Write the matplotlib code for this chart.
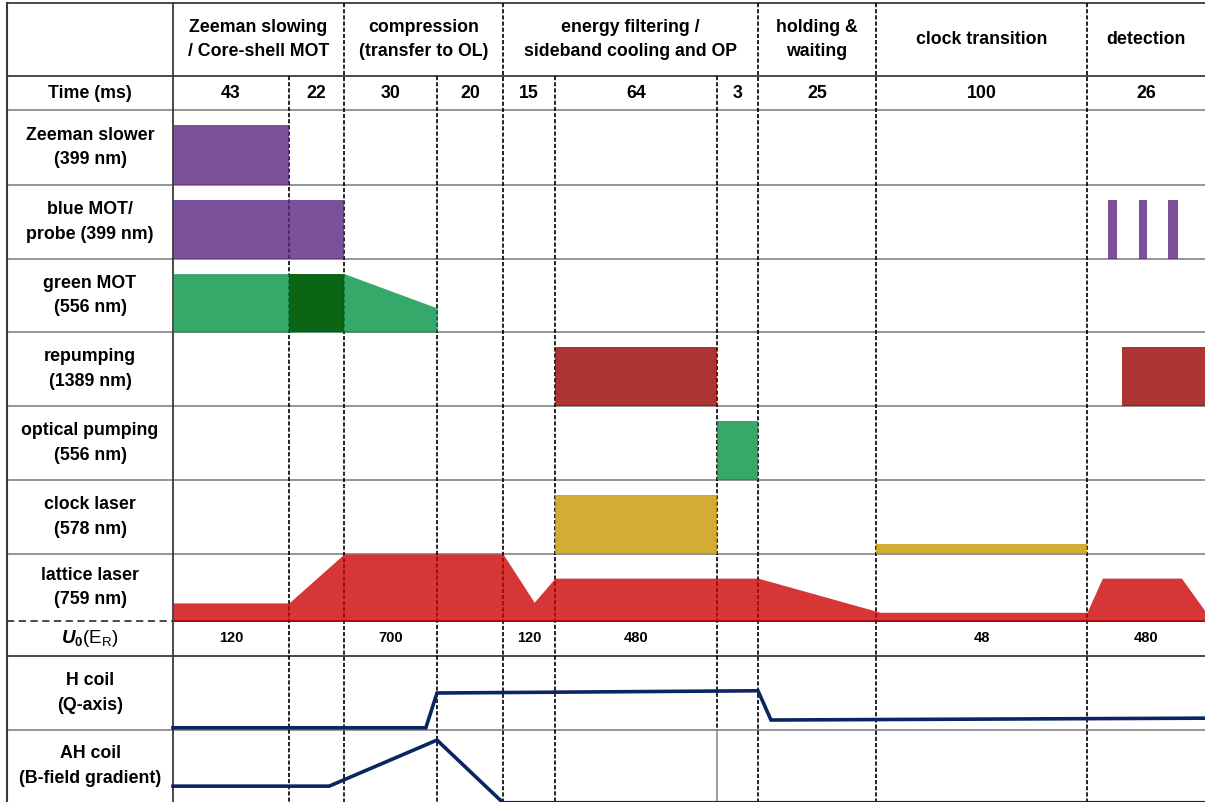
import numpy as np
import matplotlib
matplotlib.use('Agg')
import matplotlib.pyplot as plt
from matplotlib.colors import to_rgb

plt.rcParams['font.family'] = ['Liberation Sans', 'DejaVu Sans']
plt.rcParams['font.weight'] = 'bold'
plt.rcParams['mathtext.fontset'] = 'custom'
plt.rcParams['mathtext.rm'] = 'Liberation Sans:weight=normal'
plt.rcParams['mathtext.bf'] = 'Liberation Sans:bold'
plt.rcParams['mathtext.it'] = 'Liberation Sans:italic'
plt.rcParams['mathtext.bfit'] = 'Liberation Sans:bold:italic'

# sequence steps
phases = ["Zeeman slowing\n/ Core-shell MOT", "compression\n(transfer to OL)",
          "energy filtering /\nsideband cooling and OP", "holding &\nwaiting",
          "clock transition", "detection"]
phase_edges = [0, 2, 4, 7, 8, 9, 10]
durations = [43, 22, 30, 20, 15, 64, 3, 25, 100, 26]
u0_values = ['120', '', '700', '', '120', '480', '', '', '48', '480']

channels = ["Zeeman slower\n(399 nm)", "blue MOT/\nprobe (399 nm)", "green MOT\n(556 nm)",
            "repumping\n(1389 nm)", "optical pumping\n(556 nm)", "clock laser\n(578 nm)",
            "lattice laser\n(759 nm)", r"$\mathbfit{U}_\mathbf{0}\mathrm{(E}_\mathrm{R}\mathrm{)}$",
            "H coil\n(Q-axis)", "AH coil\n(B-field gradient)"]

# pulses: (start step, end step, level)
zeeman_slower = [(0, 1, 0.8)]
blue_mot = [(0, 2, 0.8), (9.18, 9.25, 0.8), (9.44, 9.51, 0.8), (9.69, 9.77, 0.8)]
repumping = [(5, 6, 0.8), (9.3, 10, 0.8)]
optical_pumping = [(6, 7, 0.8)]
clock_laser = [(5, 6, 0.8), (8, 9, 0.14)]

green_t = [0, 2, 3]
green_v = [0.8, 0.8, 0.33]
green_hold = [(1, 2, 0.8)]

lattice_t = [0, 1, 2, 4, 4.6, 5, 7, 8.02, 9, 9.13, 9.8, 10]
lattice_v = [0.27, 0.27, 1.0, 1.0, 0.28, 0.64, 0.64, 0.13, 0.13, 0.64, 0.64, 0.15]

h_coil_t = [0, 2.88, 3, 7, 7.11, 10]
h_coil_v = [0.03, 0.03, 0.5, 0.53, 0.135, 0.16]

ah_coil_t = [0, 1.73, 3, 4, 10]
ah_coil_v = [0.22, 0.22, 0.86, -0.01, -0.01]

# table layout (column / row edges in pixels)
col_px = [7, 173, 289, 344, 437, 503, 555, 717, 758, 876, 1087, 1205]
row_px = [3, 76, 110, 185, 259, 332, 406, 480, 554, 621, 656, 730, 802]


def piecewise(src, dst):
    src = np.asarray(src, float)
    dst = np.asarray(dst, float)

    def f(v):
        v = np.asarray(v, float)
        out = np.interp(v, src, dst)
        lo = dst[0] + (v - src[0]) * (dst[1] - dst[0]) / (src[1] - src[0])
        hi = dst[-1] + (v - src[-1]) * (dst[-1] - dst[-2]) / (src[-1] - src[-2])
        out = np.where(v < src[0], lo, out)
        out = np.where(v > src[-1], hi, out)
        return out
    return f


steps = np.arange(-1, len(col_px) - 1)
rows = np.arange(len(row_px))
fx, ix = piecewise(steps, col_px), piecewise(col_px, steps)
fy, iy = piecewise(rows, row_px), piecewise(row_px, rows)


def mid(a, b):
    return float(ix((fx(a) + fx(b)) / 2))


def under(color, a):
    c = np.array(to_rgb(color))
    return tuple(np.clip((c - (1 - a)) / a, 0, 1))


A = 0.8
purple = under('#7B5299', A)
green = under('#36A86A', A)
dgreen = under('#217822', A)
repump_red = under('#AE3333', A)
gold = under('#D4AC35', A)
red = under('#D63535', A)
navy = '#0B2462'
dark = '#3a3a3a'
grey = '#8c8c8c'

fig = plt.figure(figsize=(12.05, 8.02), dpi=100)
ax = fig.add_axes([0, 0, 1, 1])
ax.set_xscale('function', functions=(fx, ix))
ax.set_yscale('function', functions=(fy, iy))
ax.set_xlim(float(ix(0)), float(ix(1205)))
ax.set_ylim(float(iy(802)), float(iy(0)))
ax.set_xticks([])
ax.set_yticks([])
ax.axis('off')

# horizontal rules
for r in range(len(row_px)):
    if r in (0, 1, 10):
        ax.plot([-1, 10], [r, r], color=dark, lw=1.3, zorder=1)
    elif r == 9:
        ax.plot([-1, 0], [r, r], color=dark, lw=1.3, ls=(0, (4, 2.5)), zorder=1)
        ax.plot([0, 10], [r, r], color='#222222', lw=1.3, zorder=1)
    elif r < 12:
        ax.plot([-1, 10], [r, r], color=grey, lw=1.3, zorder=1)

# vertical rules
ax.plot([-1, -1], [0, 12], color=dark, lw=1.5, zorder=1)
ax.plot([0, 0], [0, 12], color=dark, lw=1.3, zorder=1)
dash = (0, (2.5, 1.2))
for s in range(1, 10):
    top = 0 if s in phase_edges else 1
    if s == 6:
        ax.plot([s, s], [top, 11], color='k', lw=1.2, ls=dash, zorder=1)
        ax.plot([s, s], [11, 12], color=grey, lw=1.2, zorder=1)
    else:
        ax.plot([s, s], [top, 12], color='k', lw=1.2, ls=dash, zorder=1)

# header and time row
for name, a, b in zip(phases, phase_edges[:-1], phase_edges[1:]):
    ax.text(mid(a, b), 0.5, name, ha='center', va='center', fontsize=12.8,
            linespacing=1.6)
ax.text(mid(-1, 0), 1.5, 'Time (ms)', ha='center', va='center', fontsize=12.8)
for i, d in enumerate(durations):
    ax.text(mid(i, i + 1), 1.5, str(d), ha='center', va='center', fontsize=12.8)

# channel labels
for k, name in enumerate(channels):
    fs = 13.5 if k == 7 else 12.8
    ax.text(mid(-1, 0), 2.5 + k, name, ha='center', va='center', fontsize=fs,
            linespacing=1.55)

for i, u in enumerate(u0_values):
    if u:
        ax.text(mid(i, i + 1), 9.5, u, ha='center', va='center', fontsize=10.5)


def pulses(row, items, color):
    for s, e, h in items:
        ax.fill_between([s, e], row + 1, row + 1 - h, color=color, alpha=A,
                        lw=0, zorder=2)


pulses(2, zeeman_slower, purple)
pulses(3, blue_mot, purple)
ax.fill_between(green_t, 5, 5 - np.array(green_v), color=green, alpha=A, lw=0, zorder=2)
pulses(4, green_hold, dgreen)
pulses(5, repumping, repump_red)
pulses(6, optical_pumping, green)
pulses(7, clock_laser, gold)
ax.fill_between(lattice_t, 9, 9 - np.array(lattice_v), color=red, alpha=A, lw=0, zorder=2)

ax.plot(h_coil_t, 11 - np.array(h_coil_v), color=navy, lw=2.6, zorder=3,
        solid_joinstyle='miter')
ax.plot(ah_coil_t, 12 - np.array(ah_coil_v), color=navy, lw=2.6, zorder=3,
        solid_joinstyle='miter')

fig.savefig('out.png', dpi=100)
